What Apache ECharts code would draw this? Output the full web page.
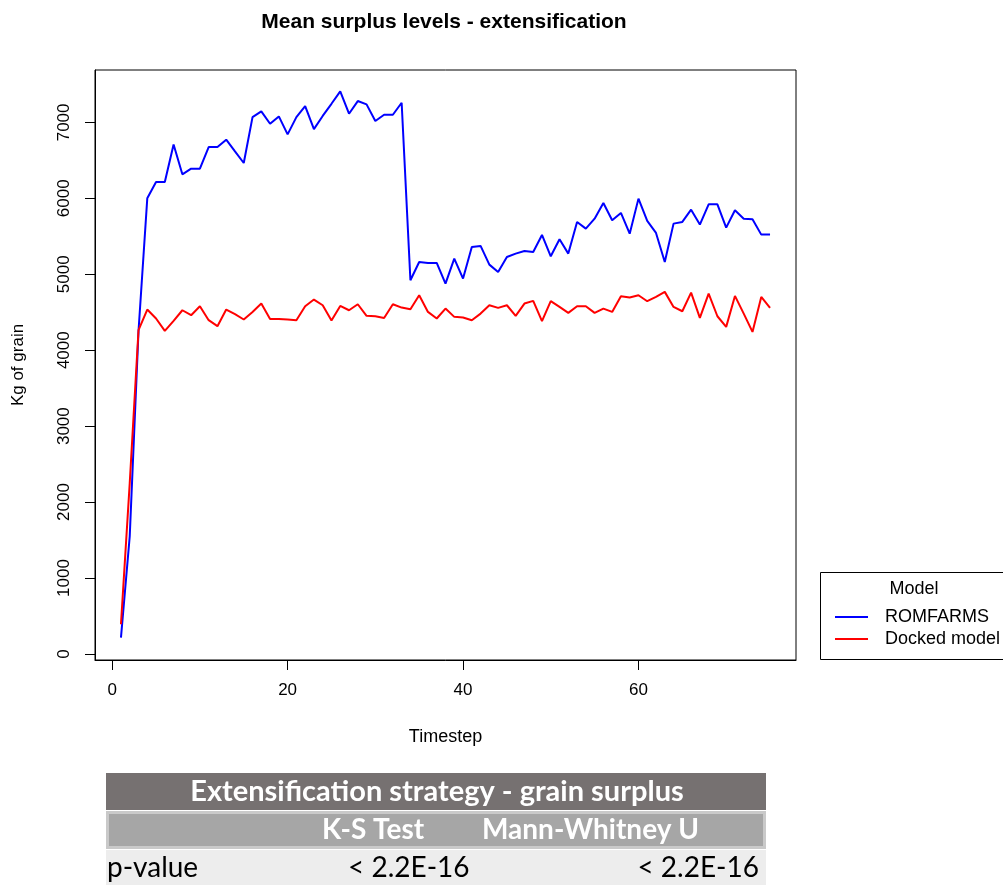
<!DOCTYPE html>
<html><head><meta charset="utf-8">
<script src="https://cdn.jsdelivr.net/npm/echarts@6/dist/echarts.min.js"></script>
<style>html,body{margin:0;padding:0;background:#fff}#c{width:1003px;height:885px}</style>
</head><body><div id="c"></div>
<script>
const timesteps = [1,2,3,4,5,6,7,8,9,10,11,12,13,14,15,16,17,18,19,20,21,22,23,24,25,26,27,28,29,30,31,32,33,34,35,36,37,38,39,40,41,42,43,44,45,46,47,48,49,50,51,52,53,54,55,56,57,58,59,60,61,62,63,64,65,66,67,68,69,70,71,72,73,74,75];
const romfarms = [215,1550,4250,6000,6215,6215,6710,6316,6390,6390,6675,6675,6772,6618,6465,7070,7145,6982,7079,6842,7070,7215,6912,7085,7245,7408,7114,7281,7237,7018,7101,7101,7259,4921,5162,5149,5149,4877,5206,4943,5360,5373,5127,5031,5228,5272,5307,5294,5518,5237,5462,5272,5689,5601,5732,5939,5711,5807,5535,5996,5702,5544,5162,5667,5689,5851,5654,5921,5921,5614,5842,5732,5724,5522,5522];
const docked = [390,2250,4263,4535,4417,4254,4386,4526,4461,4579,4395,4316,4535,4474,4404,4504,4614,4412,4412,4404,4395,4579,4667,4592,4390,4583,4526,4605,4452,4447,4425,4605,4561,4539,4724,4504,4417,4548,4439,4430,4395,4482,4592,4557,4592,4452,4614,4649,4382,4647,4570,4491,4579,4579,4491,4548,4504,4711,4693,4724,4645,4702,4768,4570,4513,4759,4425,4746,4447,4307,4715,4482,4241,4702,4557];
const xTicks = [0,20,40,60];
const yTicks = [0,1000,2000,3000,4000,5000,6000,7000];
const seriesNames = ['ROMFARMS','Docked model'];
const seriesColors = ['#0000ff','#ff0000'];
const legendTitle = 'Model';
const chartTitle = 'Mean surplus levels - extensification';
const xName = 'Timestep';
const yName = 'Kg of grain';
const tableTitle = 'Extensification strategy - grain surplus';
const tableHeaders = ['K-S Test', 'Mann-Whitney U'];
const tableRowLabel = 'p-value';
const tableRowValues = ['< 2.2E-16', '< 2.2E-16'];

const chart = echarts.init(document.getElementById('c'), null, {renderer:'canvas'});
const font = '"Liberation Sans", Arial, sans-serif';
const tfont = 'Lato, "Open Sans", sans-serif';

const option = {
  animation: false,
  backgroundColor: '#ffffff',
  grid: {left:95, right:207, top:70, bottom:225, show:true, borderColor:'#000', borderWidth:1, backgroundColor:'transparent'},
  xAxis: {
    type:'value', min:-1.96, max:77.96,
    name:xName, nameLocation:'middle', nameGap:68,
    nameTextStyle:{fontFamily:font, fontSize:18, color:'#000'},
    axisLine:{show:true, onZero:false, lineStyle:{color:'#000', width:1}},
    axisTick:{show:true, customValues:xTicks, length:10, lineStyle:{color:'#000'}},
    axisLabel:{customValues:xTicks, margin:22, fontFamily:font, fontSize:17, color:'#000', formatter:v=>String(v)},
    splitLine:{show:false}
  },
  yAxis: {
    type:'value', min:-80, max:7690,
    name:yName, nameLocation:'middle', nameGap:68,
    nameTextStyle:{fontFamily:font, fontSize:17, color:'#000'},
    axisLine:{show:true, onZero:false, lineStyle:{color:'#000', width:1}},
    axisTick:{show:true, customValues:yTicks, length:10, lineStyle:{color:'#000'}},
    axisLabel:{customValues:yTicks, rotate:90, margin:22, fontFamily:font, fontSize:17, color:'#000', formatter:v=>String(v)},
    splitLine:{show:false}
  },
  legend: {
    orient:'vertical', left:835, top:606, padding:0,
    icon:'rect', itemWidth:33, itemHeight:2, itemGap:0,
    textStyle:{fontFamily:font, fontSize:18, lineHeight:22, color:'#000', padding:[0,0,0,12]},
    data: seriesNames
  },
  series: [
    {name:seriesNames[0], type:'line', data: timesteps.map((t,i)=>[t, romfarms[i]]), symbol:'none', lineStyle:{color:seriesColors[0], width:2}, itemStyle:{color:seriesColors[0]}},
    {name:seriesNames[1], type:'line', data: timesteps.map((t,i)=>[t, docked[i]]), symbol:'none', lineStyle:{color:seriesColors[1], width:2}, itemStyle:{color:seriesColors[1]}}
  ],
  graphic: [
    {type:'text', x:444, y:22, style:{text:chartTitle, font:'bold 21px '+font, fill:'#000', textAlign:'center', textVerticalAlign:'middle'}},
    {type:'rect', shape:{x:820.5, y:572.5, width:200, height:87}, style:{fill:'none', stroke:'#000', lineWidth:1}},
    {type:'text', x:914, y:589, style:{text:legendTitle, font:'18px '+font, fill:'#000', textAlign:'center', textVerticalAlign:'middle'}},
    {type:'rect', shape:{x:106, y:773, width:660, height:37}, style:{fill:'#767171'}},
    {type:'rect', shape:{x:107.5, y:812.5, width:657, height:35}, style:{fill:'#a6a6a6', stroke:'#c9c9c9', lineWidth:3}},
    {type:'rect', shape:{x:106, y:850, width:660, height:40}, style:{fill:'#ededed'}},
    {type:'text', x:437, y:792, style:{text:tableTitle, font:'bold 29px '+tfont, fill:'#fff', textAlign:'center', textVerticalAlign:'middle'}},
    {type:'text', x:322, y:830, style:{text:tableHeaders[0], font:'bold 28px '+tfont, fill:'#fff', textAlign:'left', textVerticalAlign:'middle'}},
    {type:'text', x:482, y:830, style:{text:tableHeaders[1], font:'bold 28px '+tfont, fill:'#fff', textAlign:'left', textVerticalAlign:'middle'}},
    {type:'text', x:107, y:868, style:{text:tableRowLabel, font:'28px '+tfont, fill:'#000', textAlign:'left', textVerticalAlign:'middle'}},
    {type:'text', x:348, y:868, style:{text:tableRowValues[0], font:'28px '+tfont, fill:'#000', textAlign:'left', textVerticalAlign:'middle'}},
    {type:'text', x:759, y:868, style:{text:tableRowValues[1], font:'28px '+tfont, fill:'#000', textAlign:'right', textVerticalAlign:'middle'}}
  ]
};
chart.setOption(option);
</script></body></html>
